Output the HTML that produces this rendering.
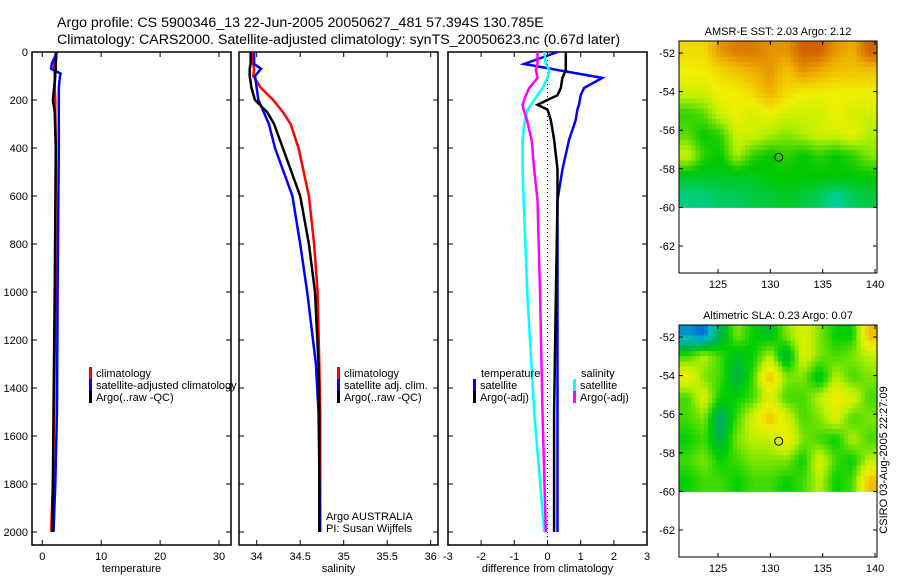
<!DOCTYPE html>
<html><head><meta charset="utf-8"><style>
body{margin:0;background:#fff}
svg{font-family:"Liberation Sans",sans-serif}
</style></head><body>
<svg id="c" width="900" height="580" xmlns="http://www.w3.org/2000/svg">
<text x="57" y="27" font-size="14.2">Argo profile: CS 5900346_13 22-Jun-2005 20050627_481 57.394S 130.785E</text>
<text x="57" y="44" font-size="14.2">Climatology: CARS2000. Satellite-adjusted climatology: synTS_20050623.nc (0.67d later)</text>
<text x="884" y="460" font-size="11" transform="rotate(-90 884 460)" text-anchor="middle" dominant-baseline="middle">CSIRO 03-Aug-2005 22:27:09</text>
</svg>
<script>
// Profile data (depth in dbar)
const tDepths=[0,50,70,90,100,150,200,250,400,1000,1500,1800,2000];
const tClim=[2.3,2.0,2.0,2.1,2.1,2.1,2.2,2.2,2.3,2.2,2.0,1.8,1.5];
const tSat=[2.5,1.6,1.5,3.1,3.0,2.8,2.8,2.8,2.8,2.6,2.5,2.2,1.9];
const tArgo=[2.4,2.3,2.3,2.2,2.2,2.0,1.8,2.1,2.3,2.1,1.9,1.8,1.7];
const sDepths=[0,50,70,100,150,200,250,300,400,600,800,1000,1300,1500,2000];
const sClim=[33.95,33.96,33.97,33.96,34.05,34.19,34.3,34.39,34.48,34.6,34.66,34.7,34.72,34.73,34.73];
const sSat=[33.97,33.97,34.05,33.98,34.0,34.02,34.08,34.14,34.21,34.41,34.5,34.58,34.68,34.71,34.73];
const sArgo=[33.93,33.93,33.92,33.92,33.94,33.98,34.12,34.2,34.3,34.5,34.6,34.67,34.71,34.72,34.72];
const dDepths=[0,50,75,108,150,180,220,240,283,325,365,490,617,1033,1500,2000];
const dTempSat=[0.3,-0.7,0.3,1.65,1.1,1.0,0.95,0.9,0.85,0.75,0.65,0.45,0.3,0.3,0.3,0.3];
const dTempArgo=[0.55,0.55,0.55,0.45,0.4,0.3,-0.3,0.0,0.1,0.15,0.2,0.3,0.3,0.25,0.2,0.2];
const dSalSat=[-0.1,-0.05,0.05,0.0,-0.15,-0.3,-0.5,-0.6,-0.68,-0.72,-0.75,-0.75,-0.72,-0.6,-0.4,-0.1];
const dSalArgo=[-0.3,-0.3,-0.35,-0.3,-0.55,-0.65,-0.75,-0.72,-0.62,-0.55,-0.48,-0.4,-0.3,-0.22,-0.15,-0.05];
const depthTicks=[0,200,400,600,800,1000,1200,1400,1600,1800,2000];
const tTicks=[0,10,20,30];
const sTicks=[34,34.5,35,35.5,36];
const dTicks=[-3,-2,-1,0,1,2,3];
// Map data (rows lat -51.4 -> -60, cols lon 121.3 -> 140.2)
const sstGrid=[
[.65,.65,.8,.85,.85,.8,.8,.9,.9,.8,.75,.9],
[.6,.6,.65,.7,.75,.8,.7,.8,.75,.7,.7,.7],
[.55,.55,.6,.6,.65,.75,.65,.6,.6,.6,.6,.6],
[.35,.4,.55,.6,.55,.6,.55,.55,.55,.6,.55,.55],
[.4,.3,.35,.55,.55,.5,.45,.5,.55,.55,.6,.5],
[.55,.35,.3,.5,.35,.3,.35,.3,.35,.3,.35,.45],
[.25,.25,.25,.25,.25,.3,.3,.3,.3,.3,.3,.3],
[.1,.1,.15,.15,.2,.2,.25,.2,.15,.05,.15,.2]];
const slaGrid=[
[.1,.05,.3,.5,.4,.35,.5,.6,.5,.4,.4,.75],
[.45,.55,.45,.35,.4,.55,.3,.6,.5,.45,.5,.55],
[.65,.5,.45,.3,.45,.75,.5,.5,.35,.55,.45,.5],
[.45,.6,.4,.4,.45,.6,.45,.45,.55,.65,.6,.45],
[.45,.5,.25,.45,.6,.75,.6,.45,.5,.6,.45,.5],
[.4,.45,.3,.5,.55,.55,.65,.5,.45,.4,.55,.45],
[.45,.5,.4,.45,.5,.5,.5,.4,.6,.45,.4,.55],
[.4,.45,.45,.4,.45,.45,.4,.45,.55,.4,.45,.75]];
const latTicks=[-52,-54,-56,-58,-60,-62];
const lonTicks=[125,130,135,140];
const argoLon=130.8, argoLat=-57.4;

const svg=document.getElementById('c');
const NS='http://www.w3.org/2000/svg';
function el(t,a,p){const e=document.createElementNS(NS,t);for(const k in a)e.setAttribute(k,a[k]);(p||svg).appendChild(e);return e;}
const Y=d=>52+d*0.24;
const pTop=52,pBot=545;

function panel(name,x0,x1,xs,ticks,fmt,label,showY){
  const g=el('g',{});
  
  
  const r=el('rect',{x:x0,y:pTop,width:x1-x0,height:pBot-pTop,fill:'none',stroke:'#000','stroke-width':1.5},g);
  
  
  ticks.forEach(v=>{const x=xs(v);
    el('line',{x1:x,x2:x,y1:pBot,y2:pBot-5,stroke:'#000'},g);
    el('line',{x1:x,x2:x,y1:pTop,y2:pTop+5,stroke:'#000'},g);
    const t=el('text',{x:x,y:pBot+15,'font-size':11,'text-anchor':'middle'},g);t.textContent=fmt(v);
    
    });
  depthTicks.forEach(d=>{const y=Y(d);
    el('line',{x1:x0,x2:x0+5,y1:y,y2:y,stroke:'#000'},g);
    el('line',{x1:x1,x2:x1-5,y1:y,y2:y,stroke:'#000'},g);
    if(showY){const t=el('text',{x:x0-4,y:y+4,'font-size':11,'text-anchor':'end'},g);t.textContent=d;
      
      }});
  const l=el('text',{x:(x0+x1)/2,y:572,'font-size':11,'text-anchor':'middle'},g);l.textContent=label;
  
  
  return g;
}
function line(g,depths,vals,xs,col,name,w){
  const pts=depths.map((d,i)=>xs(vals[i]).toFixed(1)+','+Y(d).toFixed(1)).join(' ');
  const p=el('polyline',{points:pts,fill:'none',stroke:col,'stroke-width':w||2.5},g);
  
  
}
function legend(g,x,y,col,txt,name){
  if(col){const b=el('rect',{x:x,y:y-9,width:3,height:12,fill:col},g);
    
    }
  const t=el('text',{x:x+7,y:y+1,'font-size':11},g);t.textContent=txt;
  
  
}
// Panel 1
const xT=v=>42.3+v*5.89;
const g1=panel('temperature-panel',32,231,xT,tTicks,v=>v,'temperature',true);
line(g1,tDepths,tClim,xT,'#f00','temp-climatology-line');
line(g1,tDepths,tSat,xT,'#00f','temp-satellite-line');
line(g1,tDepths,tArgo,xT,'#000','temp-argo-line');
legend(g1,89,376,'#f00','climatology','legend-climatology');
legend(g1,89,388,'#00f','satellite-adjusted climatology','legend-satellite');
legend(g1,89,400,'#000','Argo(..raw -QC)','legend-argo');
// Panel 2
const xS=v=>256.7+(v-34)*87;
const g2=panel('salinity-panel',239,438,xS,sTicks,v=>v,'salinity',false);
line(g2,sDepths,sClim,xS,'#f00','sal-climatology-line');
line(g2,sDepths,sSat,xS,'#00f','sal-satellite-line');
line(g2,sDepths,sArgo,xS,'#000','sal-argo-line');
legend(g2,337,376,'#f00','climatology','legend-climatology');
legend(g2,337,388,'#00f','satellite adj. clim.','legend-satellite');
legend(g2,337,400,'#000','Argo(..raw -QC)','legend-argo');
legend(g2,319,519,null,'Argo AUSTRALIA','argo-australia-label');
legend(g2,319,531,null,'PI: Susan Wijffels','pi-label');
// Panel 3
const xD=v=>547.5+v*33.2;
const g3=panel('difference-panel',448,647,xD,dTicks,v=>v,'difference from climatology',false);
el('line',{x1:xD(0),x2:xD(0),y1:pTop,y2:pBot,stroke:'#000','stroke-dasharray':'1,3'},g3);
line(g3,dDepths,dTempSat,xD,'#00f','diff-temp-satellite-line');
line(g3,dDepths,dTempArgo,xD,'#000','diff-temp-argo-line');
line(g3,dDepths,dSalSat,xD,'#0ff','diff-sal-satellite-line');
line(g3,dDepths,dSalArgo,xD,'#f0f','diff-sal-argo-line');
legend(g3,474,376,null,'temperature','legend-temperature');
legend(g3,473,388,'#00f','satellite','legend-temp-satellite');
legend(g3,473,400,'#000','Argo(-adj)','legend-temp-argo');
legend(g3,574,376,null,'salinity','legend-salinity');
legend(g3,573,388,'#0ff','satellite','legend-sal-satellite');
legend(g3,573,400,'#f0f','Argo(-adj)','legend-sal-argo');

// Maps
function ramp(stops,v){for(let i=1;i<stops.length;i++){if(v<=stops[i][0]){const a=stops[i-1],b=stops[i],f=(v-a[0])/(b[0]-a[0]);
  const c=a[1].map((x,k)=>Math.round(x+(b[1][k]-x)*f));return 'rgb('+c+')';}}return 'rgb('+stops[stops.length-1][1]+')';}
const sstRamp=[[0,[0,208,192]],[.3,[0,200,0]],[.5,[176,240,0]],[.6,[240,240,0]],[.75,[240,176,0]],[.9,[208,96,0]],[1,[200,80,0]]];
const slaRamp=[[0,[0,64,224]],[.15,[0,192,192]],[.3,[0,176,80]],[.4,[0,208,0]],[.55,[192,240,0]],[.65,[240,240,0]],[.8,[240,160,0]],[1,[230,120,0]]];
function sample(grid,fr,fc){
  const R=grid.length,C=grid[0].length;
  const r=Math.max(0,Math.min(R-1,fr)),c=Math.max(0,Math.min(C-1,fc));
  const r0=Math.floor(r),c0=Math.floor(c),r1=Math.min(R-1,r0+1),c1=Math.min(C-1,c0+1);
  const a=r-r0,b=c-c0;
  return grid[r0][c0]*(1-a)*(1-b)+grid[r0][c1]*(1-a)*b+grid[r1][c0]*a*(1-b)+grid[r1][c1]*a*b;
}
function map(name,y0,grid,rmp,title){
  const x0=679,x1=877,y1=y0+232;
  const lx=v=>718+(v-125)*10.47, ly=v=>y0+12+(-52-v)*19.3;
  const g=el('g',{});
  
  
  const rows=grid.length,cols=grid[0].length,K=4;
  const latTop=-51.38,latBot=-60,lonL=121.28,lonR=140.2;
  for(let i=0;i<rows*K;i++)for(let j=0;j<cols*K;j++){
    const la0=latTop+(latBot-latTop)*i/(rows*K), la1=latTop+(latBot-latTop)*(i+1)/(rows*K);
    const lo0=lonL+(lonR-lonL)*j/(cols*K), lo1=lonL+(lonR-lonL)*(j+1)/(cols*K);
    const v=sample(grid,(i+0.5)/K-0.5,(j+0.5)/K-0.5);
    const c=el('rect',{x:lx(lo0),y:ly(la0),width:lx(lo1)-lx(lo0)+0.5,height:ly(la1)-ly(la0)+0.5,fill:ramp(rmp,v)},g);
    
    
  }
  const fr=el('rect',{x:x0,y:y0,width:x1-x0,height:y1-y0,fill:'none',stroke:'#000','stroke-width':1},g);
  
  
  latTicks.forEach(v=>{const y=ly(v);
    el('line',{x1:x0,x2:x0+4,y1:y,y2:y,stroke:'#000'},g);el('line',{x1:x1,x2:x1-4,y1:y,y2:y,stroke:'#000'},g);
    const t=el('text',{x:x0-4,y:y+4,'font-size':11,'text-anchor':'end'},g);t.textContent='-'+Math.abs(v);
    
    });
  lonTicks.forEach(v=>{const x=lx(v);
    el('line',{x1:x,x2:x,y1:y1,y2:y1-4,stroke:'#000'},g);el('line',{x1:x,x2:x,y1:y0,y2:y0+4,stroke:'#000'},g);
    const t=el('text',{x:x,y:y1+15,'font-size':11,'text-anchor':'middle'},g);t.textContent=v;
    
    });
  const c=el('circle',{cx:lx(argoLon),cy:ly(argoLat),r:4,fill:'none',stroke:'#000','stroke-width':1},g);
  
  
  const t=el('text',{x:(x0+x1)/2,y:y0-6,'font-size':11,'text-anchor':'middle'},g);t.textContent=title;
  
  
}
map('sst-map',41,sstGrid,sstRamp,'AMSR-E SST: 2.03 Argo: 2.12');
map('sla-map',325,slaGrid,slaRamp,'Altimetric SLA: 0.23 Argo: 0.07');
</script>
</body></html>
